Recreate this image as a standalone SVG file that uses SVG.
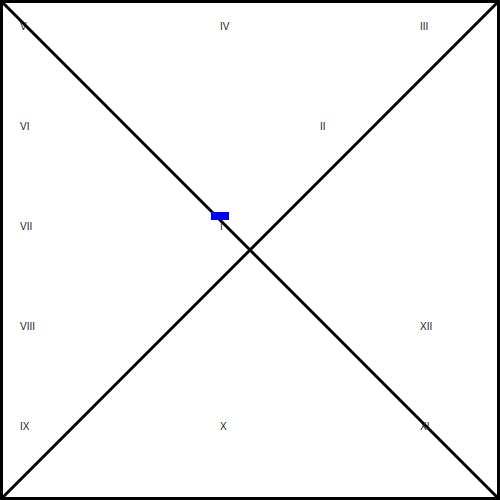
<svg xmlns="http://www.w3.org/2000/svg" width="500" height="500" viewBox="0 0 500 500">
<style>
.lbl{font-family:"Liberation Sans",Arial,sans-serif;font-size:10px;fill:#222}
.ln{stroke:#000;stroke-width:3;fill:none}
</style>
<rect x="0" y="0" width="500" height="500" fill="#fff"/>
<g id="connectors">
<rect class="ln" x="1.5" y="1.5" width="497" height="497"/>
<line class="ln" x1="0" y1="0" x2="500" y2="500"/>
<line class="ln" x1="0" y1="500" x2="500" y2="0"/>
</g>
<g id="labels">
<text class="lbl" x="220" y="230">I</text>
<text class="lbl" x="320" y="130">II</text>
<text class="lbl" x="420" y="30">III</text>
<text class="lbl" x="220" y="30">IV</text>
<text class="lbl" x="20" y="30">V</text>
<text class="lbl" x="20" y="130">VI</text>
<text class="lbl" x="20" y="230">VII</text>
<text class="lbl" x="20" y="330">VIII</text>
<text class="lbl" x="20" y="430">IX</text>
<text class="lbl" x="220" y="430">X</text>
<text class="lbl" x="420" y="430">XI</text>
<text class="lbl" x="420" y="330">XII</text>
</g>
<g id="marker">
<rect x="211" y="212" width="18" height="8" fill="#0000ff"/>
</g>
</svg>
